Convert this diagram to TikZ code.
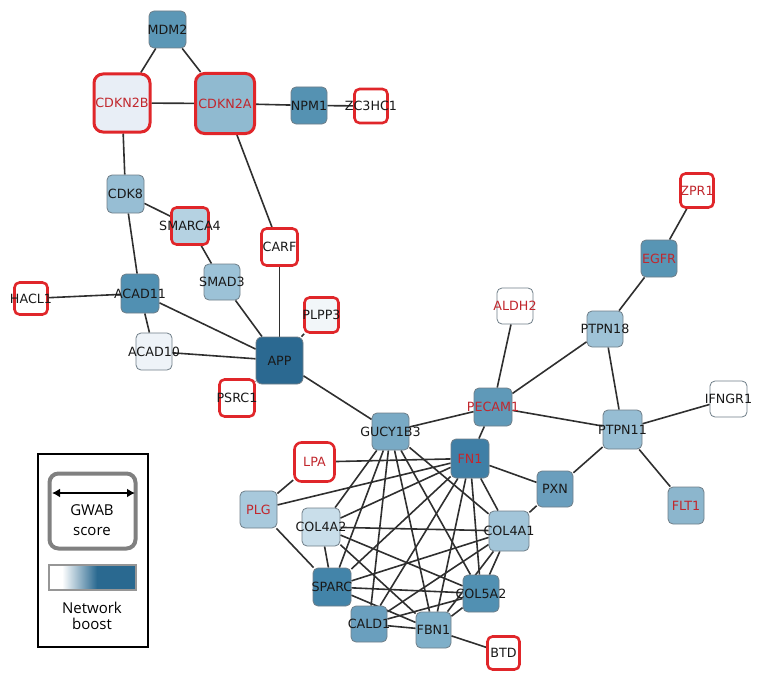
\documentclass[tikz,border=0pt]{standalone}
\usepackage{fontspec}
\newfontfamily\nodefont{DejaVu Sans}
\newfontfamily\legfont{Open Sans}
\usetikzlibrary{backgrounds,arrows.meta}
\definecolor{redb}{HTML}{E0262A}
\definecolor{redt}{HTML}{C1272D}
\definecolor{greyb}{HTML}{6F7E88}
\definecolor{edgec}{HTML}{2F2F2F}
\definecolor{legblue}{HTML}{2A6990}
\begin{document}
\begin{tikzpicture}[x=1pt,y=-1pt,
  gn/.style={rectangle, rounded corners=5pt, draw=greyb, line width=0.8pt, inner sep=0pt},
  rb/.style={draw=redb, line width=2.6pt},
  rbb/.style={draw=redb, line width=3pt, rounded corners=9pt},
  sz/.style 2 args={minimum width=#1pt, minimum height=#2pt},
  lb/.style={font=\nodefont\fontsize{12.7}{14}\selectfont, text={rgb,255:red,25;green,25;blue,25}, inner sep=0pt},
  lr/.style={lb, text=redt},
  edge/.style={draw=edgec, line width=1.6pt},
  legt/.style={font=\legfont\fontsize{15}{17}\selectfont, inner sep=0pt}
]
\useasboundingbox (0,0) rectangle (761,685);

% top-left cluster
\node[gn, fill={rgb,255:red,91;green,151;blue,182}, sz={37}{37}, label={[lb]center:MDM2}] (MDM2) at (167.5,29.5) {};
\node[gn, rbb, fill={rgb,255:red,232;green,238;blue,246}, sz={56}{58}, label={[lr]center:CDKN2B}] (CDKN2B) at (122,103) {};
\node[gn, rbb, fill={rgb,255:red,144;green,186;blue,208}, sz={59}{60}, label={[lr]center:CDKN2A}] (CDKN2A) at (225,103.5) {};
\node[gn, fill={rgb,255:red,85;green,146;blue,178}, sz={36}{37}, label={[lb]center:NPM1}] (NPM1) at (309,105.5) {};
\node[gn, rb, fill=white, sz={33}{34}, label={[lb]center:ZC3HC1}] (ZC3HC1) at (371,106) {};
\node[gn, fill={rgb,255:red,151;green,190;blue,212}, sz={37}{38}, label={[lb]center:CDK8}] (CDK8) at (125.5,194) {};
\node[gn, rb, fill={rgb,255:red,181;green,210;blue,226}, sz={37}{37}, label={[lb]center:SMARCA4}] (SMARCA4) at (190,226) {};
\node[gn, rb, fill=white, sz={36}{37}, label={[lb]center:CARF}] (CARF) at (279.5,247) {};
\node[gn, fill={rgb,255:red,156;green,194;blue,215}, sz={36}{36}, label={[lb]center:SMAD3}] (SMAD3) at (222,282) {};
\node[gn, rb, fill=white, sz={33}{32}, label={[lb]center:HACL1}] (HACL1) at (31,298.5) {};
\node[gn, fill={rgb,255:red,81;green,144;blue,178}, sz={38}{39}, label={[lb]center:ACAD11}] (ACAD11) at (140,293.5) {};
\node[gn, rb, fill={rgb,255:red,242;green,246;blue,249}, sz={34}{35}, label={[lb]center:PLPP3}] (PLPP3) at (321.5,315) {};
\node[gn, fill={rgb,255:red,238;green,243;blue,248}, sz={36}{37}, label={[lb]center:ACAD10}] (ACAD10) at (154,351.5) {};
\node[gn, rounded corners=6pt, fill={rgb,255:red,43;green,105;blue,145}, sz={47}{47}, label={[lb]center:APP}] (APP) at (279.5,360.5) {};
\node[gn, rb, fill=white, sz={35}{37}, label={[lb]center:PSRC1}] (PSRC1) at (237,398) {};

% right part
\node[gn, rb, fill=white, sz={33}{34}, label={[lr]center:ZPR1}] (ZPR1) at (697,190.5) {};
\node[gn, fill={rgb,255:red,88;green,149;blue,180}, sz={36}{37}, label={[lr]center:EGFR}] (EGFR) at (659,258.5) {};
\node[gn, fill=white, sz={36}{36}, label={[lr]center:ALDH2}] (ALDH2) at (515,306) {};
\node[gn, fill={rgb,255:red,159;green,195;blue,215}, sz={36}{36}, label={[lb]center:PTPN18}] (PTPN18) at (605,329) {};
\node[gn, fill=white, sz={37}{36}, label={[lb]center:IFNGR1}] (IFNGR1) at (728.5,399) {};
\node[gn, fill={rgb,255:red,95;green,153;blue,184}, sz={38}{38}, label={[lr]center:PECAM1}] (PECAM1) at (493,407) {};
\node[gn, fill={rgb,255:red,150;green,189;blue,211}, sz={39}{39}, label={[lb]center:PTPN11}] (PTPN11) at (622.5,429.5) {};
\node[gn, fill={rgb,255:red,140;green,182;blue,205}, sz={36}{37}, label={[lr]center:FLT1}] (FLT1) at (686,505.5) {};

% bottom cluster
\node[gn, fill={rgb,255:red,121;green,170;blue,197}, sz={37}{37}, label={[lb]center:GUCY1B3}] (GUCY1B3) at (390.5,431.5) {};
\node[gn, fill={rgb,255:red,63;green,127;blue,166}, sz={38}{39}, label={[lr]center:FN1}] (FN1) at (470,458.5) {};
\node[gn, rb, fill=white, rounded corners=7pt, sz={40}{39}, label={[lr]center:LPA}] (LPA) at (314.5,462) {};
\node[gn, fill={rgb,255:red,106;green,158;blue,189}, sz={36}{36}, label={[lb]center:PXN}] (PXN) at (555,489) {};
\node[gn, fill={rgb,255:red,168;green,201;blue,220}, sz={37}{37}, label={[lr]center:PLG}] (PLG) at (258.5,509.5) {};
\node[gn, fill={rgb,255:red,201;green,222;blue,234}, sz={38}{38}, label={[lb]center:COL4A2}] (COL4A2) at (321,527) {};
\node[gn, fill={rgb,255:red,162;green,197;blue,217}, sz={40}{40}, label={[lb]center:COL4A1}] (COL4A1) at (509,531) {};
\node[gn, fill={rgb,255:red,67;green,132;blue,169}, sz={38}{38}, label={[lb]center:SPARC}] (SPARC) at (332,587) {};
\node[gn, fill={rgb,255:red,81;green,144;blue,178}, sz={36}{37}, label={[lb]center:COL5A2}] (COL5A2) at (481,593.5) {};
\node[gn, fill={rgb,255:red,106;green,159;blue,190}, sz={36}{36}, label={[lb]center:CALD1}] (CALD1) at (369,624) {};
\node[gn, fill={rgb,255:red,126;green,175;blue,201}, sz={35}{36}, label={[lb]center:FBN1}] (FBN1) at (433.5,630) {};
\node[gn, rb, fill=white, sz={32}{33}, label={[lb]center:BTD}] (BTD) at (503.5,653) {};

\begin{pgfonlayer}{background}
\draw[edge] (MDM2) -- (CDKN2B);
\draw[edge] (MDM2) -- (CDKN2A);
\draw[edge] (CDKN2B) -- (CDKN2A);
\draw[edge] (CDKN2A) -- (NPM1);
\draw[edge] (NPM1) -- (ZC3HC1);
\draw[edge] (CDKN2B) -- (CDK8);
\draw[edge] (CDKN2A) -- (CARF);
\draw[edge] (CDK8) -- (SMARCA4);
\draw[edge] (CDK8) -- (ACAD11);
\draw[edge] (SMARCA4) -- (SMAD3);
\draw[edge] (SMAD3) -- (APP);
\draw[edge] (CARF) -- (APP);
\draw[edge] (HACL1) -- (ACAD11);
\draw[edge] (ACAD11) -- (APP);
\draw[edge] (ACAD11) -- (ACAD10);
\draw[edge] (ACAD10) -- (APP);
\draw[edge] (PLPP3) -- (APP);
\draw[edge] (PSRC1) -- (APP);
\draw[edge] (APP) -- (GUCY1B3);
\draw[edge] (ZPR1) -- (EGFR);
\draw[edge] (EGFR) -- (PTPN18);
\draw[edge] (ALDH2) -- (PECAM1);
\draw[edge] (PTPN18) -- (PECAM1);
\draw[edge] (PTPN18) -- (PTPN11);
\draw[edge] (IFNGR1) -- (PTPN11);
\draw[edge] (PECAM1) -- (GUCY1B3);
\draw[edge] (PECAM1) -- (PTPN11);
\draw[edge] (PECAM1) -- (FN1);
\draw[edge] (PTPN11) -- (PXN);
\draw[edge] (PTPN11) -- (FLT1);
\draw[edge] (FN1) -- (PXN);
\draw[edge] (PXN) -- (COL4A1);
\draw[edge] (LPA) -- (FN1);
\draw[edge] (LPA) -- (PLG);
\draw[edge] (PLG) -- (FN1);
\draw[edge] (PLG) -- (SPARC);
\draw[edge] (GUCY1B3) -- (COL4A2);
\draw[edge] (GUCY1B3) -- (SPARC);
\draw[edge] (GUCY1B3) -- (CALD1);
\draw[edge] (GUCY1B3) -- (FBN1);
\draw[edge] (GUCY1B3) -- (COL5A2);
\draw[edge] (GUCY1B3) -- (COL4A1);
\draw[edge] (FN1) -- (COL4A2);
\draw[edge] (FN1) -- (SPARC);
\draw[edge] (FN1) -- (CALD1);
\draw[edge] (FN1) -- (FBN1);
\draw[edge] (FN1) -- (COL5A2);
\draw[edge] (FN1) -- (COL4A1);
\draw[edge] (COL4A2) -- (COL4A1);
\draw[edge] (COL4A2) -- (SPARC);
\draw[edge] (COL4A2) -- (COL5A2);
\draw[edge] (COL4A2) -- (FBN1);
\draw[edge] (COL4A1) -- (SPARC);
\draw[edge] (COL4A1) -- (CALD1);
\draw[edge] (COL4A1) -- (COL5A2);
\draw[edge] (COL4A1) -- (FBN1);
\draw[edge] (SPARC) -- (COL5A2);
\draw[edge] (SPARC) -- (FBN1);
\draw[edge] (CALD1) -- (COL5A2);
\draw[edge] (CALD1) -- (FBN1);
\draw[edge] (FBN1) -- (COL5A2);
\draw[edge] (FBN1) -- (BTD);
\end{pgfonlayer}

% legend
\draw[black, line width=1.6pt] (38,454) rectangle (148,647);
\draw[draw={rgb,255:red,128;green,128;blue,128}, line width=4pt, rounded corners=9pt] (49.5,473.5) rectangle (135.5,548.5);
\coordinate (arrL) at (52,493);
\coordinate (arrR) at (135,493);
\draw[black, line width=2.6pt, {Latex[length=8pt,width=9pt]}-{Latex[length=8pt,width=9pt]}] (arrL) -- (arrR);
\node[legt] (gwab) at (92,510) {GWAB};
\node[legt] (score) at (92,531) {score};
\fill[white] (49,565) rectangle (62,590);
\shade[left color=white, right color=legblue] (62,565) rectangle (97,590);
\fill[legblue] (96.8,565) rectangle (136,590);
\draw[draw={rgb,255:red,150;green,150;blue,150}, line width=1.5pt] (49,565) rectangle (136,590);
\node[legt] (network) at (92,608) {Network};
\node[legt] (boost) at (92,624) {boost};
\end{tikzpicture}
\end{document}
